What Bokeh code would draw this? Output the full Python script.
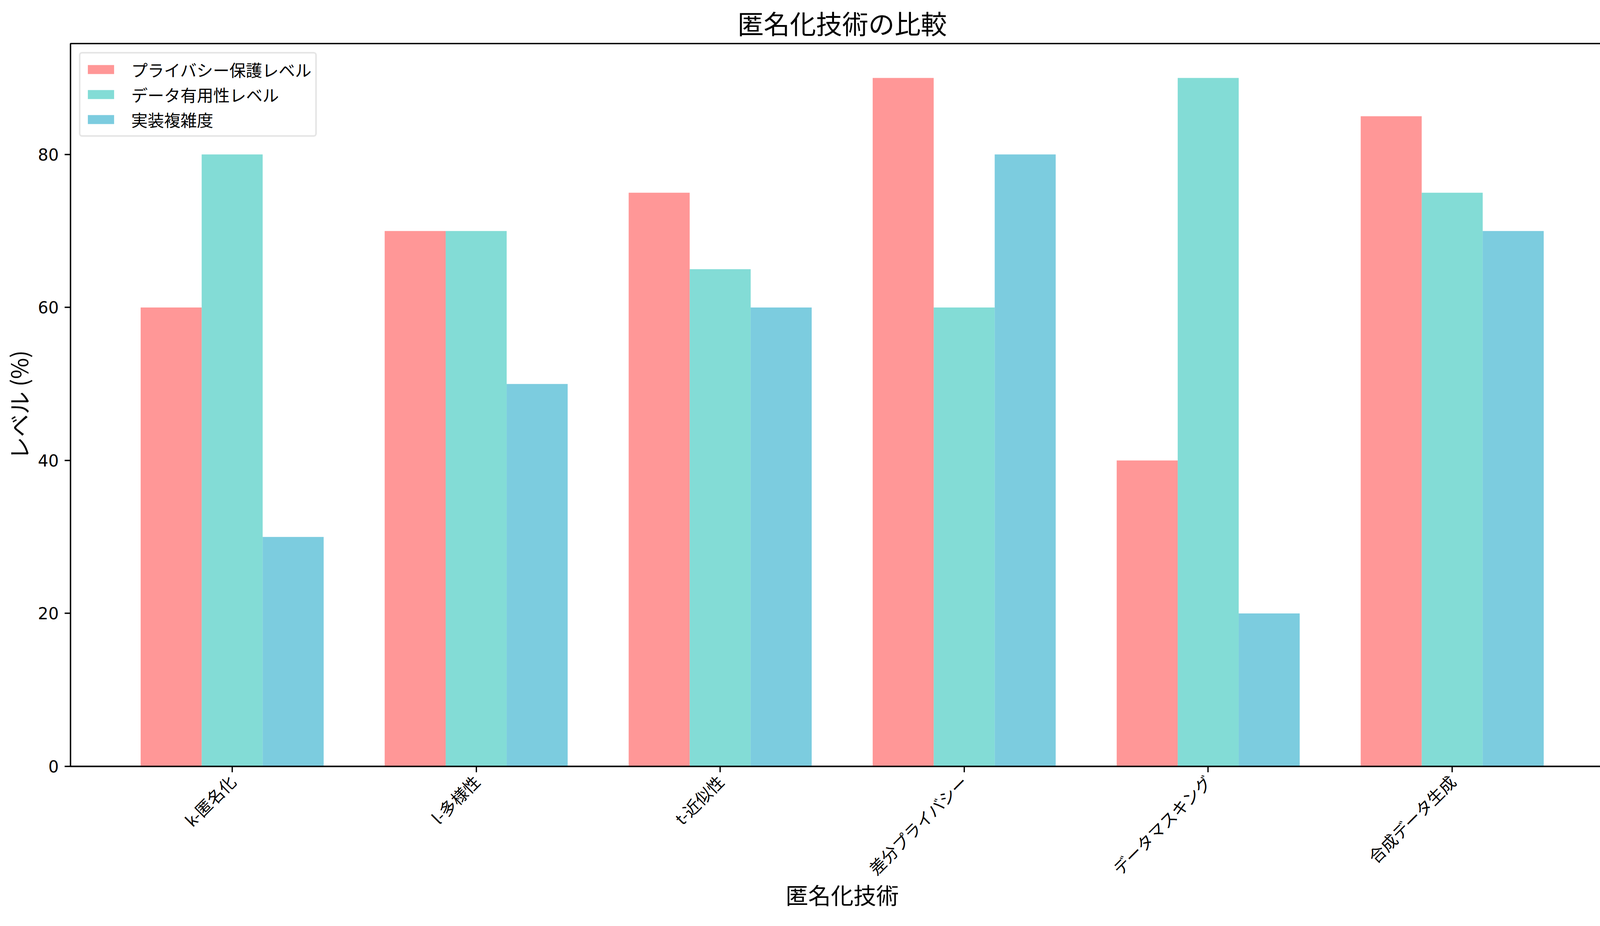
from bokeh.plotting import figure
from bokeh.models import ColumnDataSource, Range1d, FixedTicker, Legend, LegendItem
from bokeh.transform import dodge
from bokeh.embed import file_html
from bokeh.resources import INLINE
import math

# ---- data ----
categories = ["k-匿名化", "l-多様性", "t-近似性", "差分プライバシー", "データマスキング", "合成データ生成"]
series_names = ["プライバシー保護レベル", "データ有用性レベル", "実装複雑度"]
privacy = [60, 70, 75, 90, 40, 85]
utility = [80, 70, 65, 60, 90, 75]
complexity = [30, 50, 60, 80, 20, 70]
y_ticks = [0, 20, 40, 60, 80]
colors = ["#FF6B6B", "#4ECDC4", "#45B7D1"]

JP = "Noto Sans CJK JP"
NUM = "DejaVu Sans"

idx = list(range(len(categories)))
source = ColumnDataSource(dict(x=idx, privacy=privacy, utility=utility, complexity=complexity))

p = figure(width=4150, height=2352, output_backend="svg", toolbar_location=None,
           x_range=Range1d(-0.6625, 5.6625), y_range=Range1d(0, 94.5),
           min_border_left=180, min_border_right=19, min_border_top=99, min_border_bottom=391)

bar_w = 0.25
offsets = [-bar_w, 0.0, bar_w]
cols = ["privacy", "utility", "complexity"]
renderers = []
for off, col, c in zip(offsets, cols, colors):
    r = p.vbar(x=dodge("x", off, range=p.x_range), top=col, width=bar_w, bottom=0,
               source=source, fill_color=c, fill_alpha=0.7, line_color=None)
    renderers.append(r)

# title
p.title.text = "匿名化技術の比較"
p.title.text_font = JP
p.title.text_font_size = "67px"
p.title.text_font_style = "normal"
p.title.text_color = "black"
p.title.align = "center"
p.title.standoff = 12

# grid off
p.xgrid.visible = False
p.ygrid.visible = False

# frame
p.outline_line_color = "black"
p.outline_line_width = 3.3
p.outline_line_alpha = 1.0
p.background_fill_color = "white"
p.border_fill_color = "white"

# x axis
xa = p.xaxis[0]
xa.ticker = FixedTicker(ticks=idx)
xa.major_label_overrides = {i: c for i, c in zip(idx, categories)}
xa.major_label_orientation = math.pi / 4
xa.major_label_text_font = JP
xa.major_label_text_font_size = "42px"
xa.major_label_text_color = "black"
xa.major_tick_out = 15
xa.major_tick_in = 0
xa.major_tick_line_width = 3.3
xa.major_tick_line_color = "black"
xa.minor_tick_line_color = None
xa.axis_line_width = 3.3
xa.axis_line_color = "black"
xa.major_label_standoff = 15
xa.axis_label = "匿名化技術"
xa.axis_label_text_font = JP
xa.axis_label_text_font_size = "58px"
xa.axis_label_text_font_style = "normal"
xa.axis_label_text_color = "black"
xa.axis_label_standoff = -28

# y axis
ya = p.yaxis[0]
ya.ticker = FixedTicker(ticks=y_ticks)
ya.major_label_text_font = NUM
ya.major_label_text_font_size = "42px"
ya.major_label_text_color = "black"
ya.major_tick_out = 15
ya.major_tick_in = 0
ya.major_tick_line_width = 3.3
ya.major_tick_line_color = "black"
ya.minor_tick_line_color = None
ya.axis_line_width = 3.3
ya.axis_line_color = "black"
ya.major_label_standoff = 15
ya.axis_label = "レベル (%)"
ya.axis_label_text_font = JP
ya.axis_label_text_font_size = "58px"
ya.axis_label_text_font_style = "normal"
ya.axis_label_text_color = "black"
ya.axis_label_standoff = 5

# legend
items = [LegendItem(label=n, renderers=[r]) for n, r in zip(series_names, renderers)]
legend = Legend(items=items, location="top_left")
legend.label_text_font = JP
legend.label_text_font_size = "42px"
legend.label_text_color = "black"
legend.glyph_width = 84
legend.glyph_height = 29
legend.label_standoff = 36
legend.spacing = 3
legend.padding = 10
legend.margin = 22
legend.border_line_color = "#cccccc"
legend.border_line_width = 4
legend.border_radius = 8
legend.background_fill_alpha = 0.8
p.add_layout(legend)

open("out.html", "w").write(file_html(p, INLINE))
